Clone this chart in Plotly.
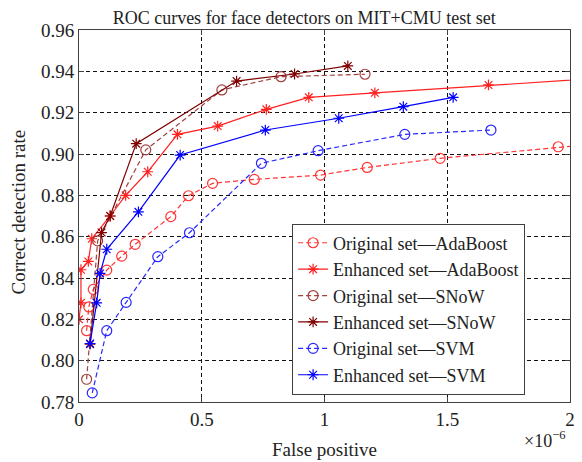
import plotly.graph_objects as go


# ==========================================================
# DATA  (false positive in units of 1e-6)
# ==========================================================

orig_ada_x = [0.031, 0.040, 0.058, 0.113, 0.174, 0.229, 0.374, 0.446, 0.544, 0.714, 0.984, 1.174, 1.471, 1.952, 2.30]
orig_ada_y = [0.8145, 0.826, 0.8345, 0.8438, 0.8506, 0.8563, 0.8697, 0.8798, 0.8858, 0.8877, 0.8898, 0.8935, 0.8979, 0.9035, 0.907]

enh_ada_x = [0.0, 0.008, 0.008, 0.038, 0.052, 0.127, 0.190, 0.280, 0.401, 0.565, 0.763, 0.936, 1.205, 1.668, 2.30]
enh_ada_y = [0.820, 0.828, 0.844, 0.848, 0.859, 0.870, 0.880, 0.8914, 0.9095, 0.9135, 0.9216, 0.9274, 0.9296, 0.9334, 0.938]

orig_snow_x = [0.031, 0.076, 0.272, 0.582, 0.823, 1.165]
orig_snow_y = [0.791, 0.858, 0.902, 0.931, 0.9374, 0.9386]

enh_snow_x = [0.045, 0.092, 0.127, 0.233, 0.642, 0.878, 1.095]
enh_snow_y = [0.808, 0.862, 0.870, 0.905, 0.9353, 0.9387, 0.9426]

orig_svm_x = [0.054, 0.113, 0.192, 0.321, 0.450, 0.743, 0.974, 1.327, 1.678]
orig_svm_y = [0.7844, 0.8145, 0.8282, 0.8503, 0.8619, 0.8955, 0.9016, 0.9095, 0.9116]

enh_svm_x = [0.045, 0.072, 0.086, 0.113, 0.242, 0.412, 0.759, 1.058, 1.321, 1.524]
enh_svm_y = [0.8083, 0.828, 0.8422, 0.8539, 0.872, 0.8995, 0.9116, 0.9173, 0.9229, 0.9274]

x_ticks = [0, 0.5, 1, 1.5, 2]
x_tick_text = ["0", "0.5", "1", "1.5", "2"]
y_ticks = [0.78, 0.80, 0.82, 0.84, 0.86, 0.88, 0.90, 0.92, 0.94, 0.96]

SERIF = "Liberation Serif, Times New Roman, Times, serif"
INK = "#222222"


# ==========================================================
# SERIES
# ==========================================================

series = [
    ("Original set\u2014AdaBoost", orig_ada_x, orig_ada_y, "#ff3535", "dash", "circle-open"),
    ("Enhanced set\u2014AdaBoost", enh_ada_x, enh_ada_y, "#ff2020", "solid", "asterisk-open"),
    ("Original set\u2014SNoW", orig_snow_x, orig_snow_y, "#a0403f", "dash", "circle-open"),
    ("Enhanced set\u2014SNoW", enh_snow_x, enh_snow_y, "#800000", "solid", "asterisk-open"),
    ("Original set\u2014SVM", orig_svm_x, orig_svm_y, "#2828ff", "dash", "circle-open"),
    ("Enhanced set\u2014SVM", enh_svm_x, enh_svm_y, "#0000ff", "solid", "asterisk-open"),
]

fig = go.Figure()

for name, xs, ys, color, dash, symbol in series:
    fig.add_trace(
        go.Scatter(
            x=xs,
            y=ys,
            mode="lines+markers",
            name=name,
            line=dict(color=color, width=1.2, dash="5px,3px" if dash == "dash" else "solid"),
            marker=dict(
                symbol=symbol,
                size=10 if symbol == "circle-open" else 9,
                color=color,
                line=dict(color=color, width=1.2)
            )
        )
    )

axis_common = dict(
    showline=True,
    linecolor="#404040",
    linewidth=1,
    mirror="ticks",
    ticks="inside",
    ticklen=5,
    tickcolor="#404040",
    showgrid=True,
    gridcolor="#111111",
    gridwidth=1,
    griddash="4px,3px",
    zeroline=False,
    automargin=False,
    tickfont=dict(family=SERIF, size=19, color=INK),
)

fig.update_xaxes(
    range=[0, 2],
    tickvals=x_ticks,
    ticktext=x_tick_text,
    **axis_common
)

fig.update_yaxes(
    range=[0.78, 0.96],
    tickvals=y_ticks,
    tickformat=".2f",
    **axis_common
)

# axis titles and exponent as annotations for exact placement
fig.add_annotation(
    text="False positive",
    xref="paper", yref="paper",
    x=0.5, y=-0.129,
    xanchor="center", yanchor="middle",
    showarrow=False,
    font=dict(family=SERIF, size=19, color=INK)
)

fig.add_annotation(
    text="Correct detection rate",
    xref="paper", yref="paper",
    x=-0.124, y=0.51,
    xanchor="center", yanchor="middle",
    textangle=-90,
    showarrow=False,
    font=dict(family=SERIF, size=19, color=INK)
)

fig.add_annotation(
    text="\u00d710<sup>\u22126</sup>",
    xref="paper", yref="paper",
    x=0.996, y=-0.102,
    xanchor="right", yanchor="middle",
    showarrow=False,
    font=dict(family=SERIF, size=18, color=INK)
)

fig.update_layout(
    width=574,
    height=454,
    template="plotly_white",
    plot_bgcolor="white",
    paper_bgcolor="white",
    margin=dict(l=71, r=12, t=22, b=60, autoexpand=False),
    title=dict(
        text="ROC curves for face detectors on MIT+CMU test set",
        x=0.516, xanchor="center",
        y=0.993, yanchor="top",
        font=dict(family=SERIF, size=18, color=INK)
    ),
    legend=dict(
        x=0.434, y=0.02,
        xanchor="left", yanchor="bottom",
        bgcolor="white",
        bordercolor="#404040",
        borderwidth=1,
        tracegroupgap=0,
        itemwidth=30,
        font=dict(family=SERIF, size=18, color=INK)
    ),
    showlegend=True
)

fig.write_html("out.html")
